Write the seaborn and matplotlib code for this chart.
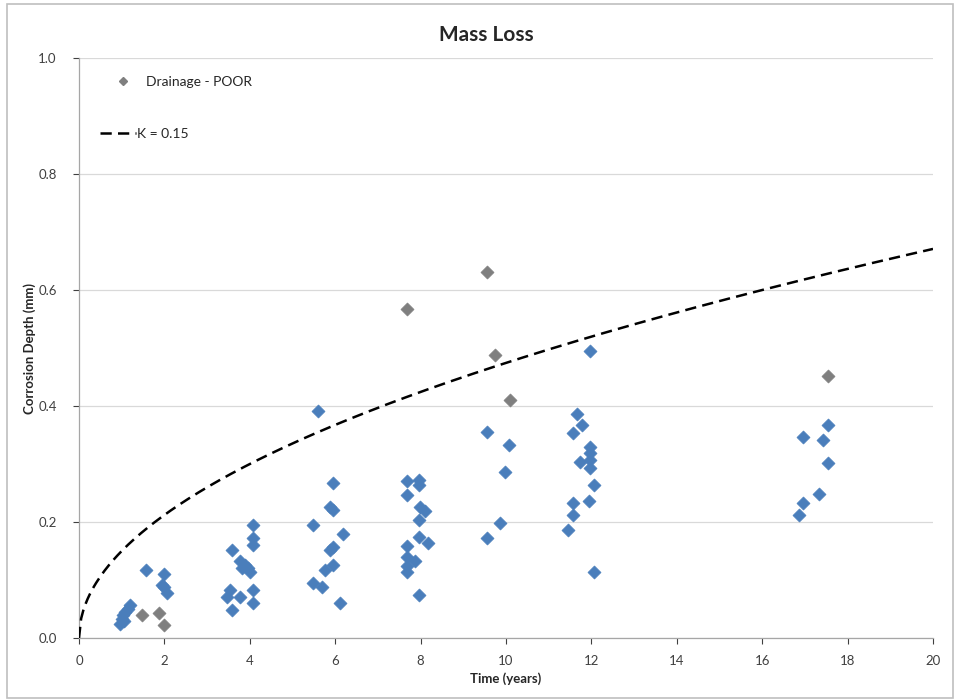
import numpy as np
import pandas as pd
import matplotlib
matplotlib.use("Agg")
import matplotlib.pyplot as plt
from matplotlib.lines import Line2D
from matplotlib.patches import Rectangle
import seaborn as sns

# ---- data ----
time_other = [0.95, 1.0, 1.02, 1.05, 1.08, 1.15, 1.2,
              1.58, 1.98, 1.95, 1.98, 2.06,
              3.58, 4.08, 4.08, 4.08, 3.77, 3.89, 3.96, 3.81, 4.0, 3.54, 3.46, 3.77, 4.08, 4.08, 3.58,
              5.96, 5.88, 5.96, 5.49, 6.19, 5.88, 5.96, 5.96, 5.76, 5.49, 5.68, 6.11, 5.59,
              7.67, 7.97, 7.97, 7.67, 7.99, 8.1, 7.97, 7.97, 8.18, 7.67, 7.67, 7.87, 7.67, 7.67, 7.97,
              9.56, 10.08, 9.98, 9.86, 9.56,
              11.97, 11.67, 11.77, 11.56, 11.97, 11.97, 11.73, 11.97, 11.97, 12.06, 11.56, 11.95, 11.56, 11.46, 12.06,
              17.55, 16.96, 17.43, 17.55, 17.34, 16.96, 16.87]
depth_other = [0.025, 0.032, 0.04, 0.03, 0.045, 0.05, 0.057,
               0.117, 0.11, 0.092, 0.088, 0.078,
               0.152, 0.195, 0.172, 0.16, 0.132, 0.126, 0.12, 0.12, 0.114, 0.083, 0.071, 0.071, 0.083, 0.06, 0.048,
               0.267, 0.226, 0.221, 0.195, 0.18, 0.152, 0.157, 0.126, 0.117, 0.094, 0.088, 0.06, 0.391,
               0.27, 0.272, 0.264, 0.247, 0.226, 0.219, 0.203, 0.175, 0.163, 0.159, 0.139, 0.133, 0.124, 0.113, 0.074,
               0.356, 0.333, 0.287, 0.198, 0.173,
               0.494, 0.387, 0.367, 0.354, 0.33, 0.319, 0.304, 0.307, 0.293, 0.264, 0.233, 0.236, 0.212, 0.187, 0.114,
               0.367, 0.346, 0.341, 0.301, 0.248, 0.232, 0.212]

time_poor = [1.47, 1.88, 1.99, 7.67, 9.56, 9.74, 10.09, 17.55]
depth_poor = [0.04, 0.043, 0.022, 0.568, 0.631, 0.488, 0.41, 0.451]

K = 0.15
x_ticks = [0, 2, 4, 6, 8, 10, 12, 14, 16, 18, 20]
y_ticks = [0.0, 0.2, 0.4, 0.6, 0.8, 1.0]

BLUE = "#4a7ebb"
GREY = "#7f7f7f"
FONT = ["Lato", "DejaVu Sans"]

sns.set_style("white")
plt.rcParams["font.family"] = FONT

fig = plt.figure(figsize=(9.56, 7.0), dpi=100)
ax = fig.add_axes([79 / 956, 62 / 700, (933 - 79) / 956, (638 - 58) / 700])

df_other = pd.DataFrame({"t": time_other, "d": depth_other})
df_poor = pd.DataFrame({"t": time_poor, "d": depth_poor})

sns.scatterplot(data=df_other, x="t", y="d", ax=ax, marker="D", s=44,
                color=BLUE, edgecolor=BLUE, linewidth=0.5, zorder=3, legend=False)
sns.scatterplot(data=df_poor, x="t", y="d", ax=ax, marker="D", s=44,
                color=GREY, edgecolor=GREY, linewidth=0.5, zorder=3, legend=False)

tt = np.linspace(0, 20, 400)
df_curve = pd.DataFrame({"t": tt, "d": K * np.sqrt(tt)})
sns.lineplot(data=df_curve, x="t", y="d", ax=ax, color="black", lw=1.8,
             linestyle=(0, (4.5, 2.5)), zorder=4)

ax.set_xlim(0, 20)
ax.set_ylim(0, 1.0)
ax.set_xticks(x_ticks)
ax.set_yticks(y_ticks)
ax.set_xticklabels([str(v) for v in x_ticks])
ax.set_yticklabels([f"{v:.1f}" for v in y_ticks])
ax.tick_params(axis="both", labelsize=9.5, colors="#404040", length=4, width=0.8,
               direction="out", bottom=True, left=True)
ax.tick_params(axis="x", pad=8)
ax.tick_params(axis="y", pad=12)

ax.grid(axis="y", color="#d9d9d9", lw=0.9)
ax.grid(axis="x", visible=False)
for side in ["top", "right"]:
    ax.spines[side].set_visible(False)
for side in ["left", "bottom"]:
    ax.spines[side].set_color("#a6a6a6")
    ax.spines[side].set_linewidth(0.9)

ax.set_xlabel("Time (years)", fontsize=9.5, fontweight="bold", labelpad=4)
ax.set_ylabel("Corrosion Depth (mm)", fontsize=9.5, fontweight="bold", labelpad=2)

fig.text(486 / 956, 1 - 35 / 700, "Mass Loss", ha="center", va="center",
         fontsize=15, fontweight="bold")

h_poor = Line2D([], [], marker="D", color=GREY, linestyle="none", markersize=4)
h_k = Line2D([], [], color="black", lw=1.8, linestyle=(0, (4.5, 2.5)))
leg1 = ax.legend([h_poor], ["Drainage - POOR"], loc="upper left",
                 bbox_to_anchor=(18 / 854, 1 - 5 / 580), frameon=False,
                 fontsize=10, handlelength=2.0, handletextpad=0.6)
ax.add_artist(leg1)
ax.legend([h_k], ["K = 0.15"], loc="upper left",
          bbox_to_anchor=(8 / 854, 1 - 57 / 580), frameon=False,
          fontsize=10, handlelength=2.6, handletextpad=0.1)

fig.add_artist(Rectangle((7 / 956, 2 / 700), 946 / 956, 694 / 700, transform=fig.transFigure,
                         fill=False, edgecolor="#bfbfbf", lw=1.2))

fig.savefig("out.png", dpi=100)
